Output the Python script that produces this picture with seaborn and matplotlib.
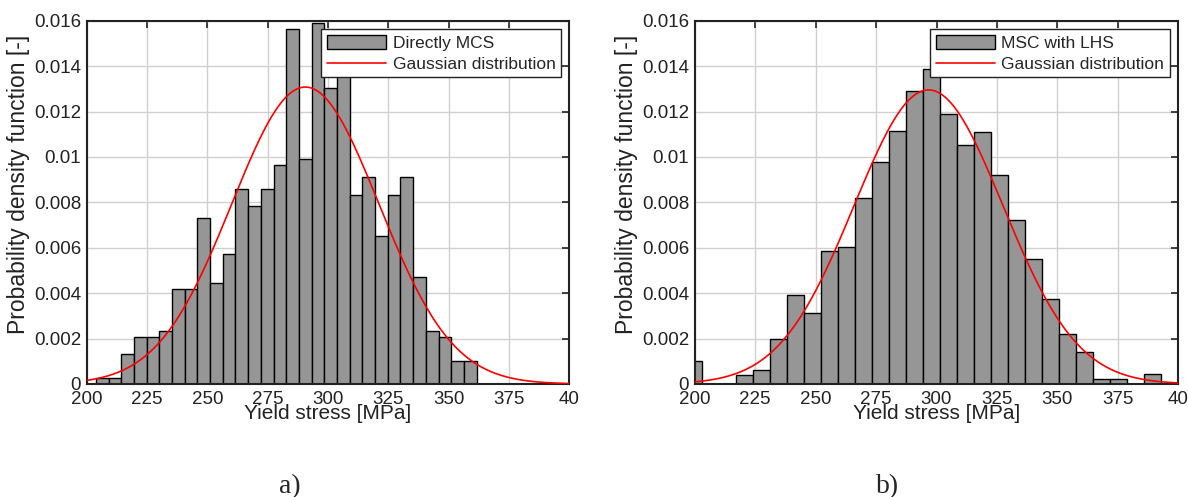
import numpy as np
import pandas as pd
import seaborn as sns
import matplotlib
matplotlib.use("Agg")
import matplotlib.pyplot as plt
from matplotlib.lines import Line2D
from matplotlib.patches import Patch

# ---------------- data ----------------
# panel a) Directly MCS : 30 bins from 203.8 to 361.6 MPa
a_edge_lo, a_edge_hi, a_nbins = 203.8, 361.6, 30
a_density = [0.000264, 0.000264, 0.00131, 0.00207, 0.00207, 0.00235, 0.00417, 0.00417,
             0.00731, 0.00443, 0.00574, 0.00860, 0.00782, 0.00860, 0.00966, 0.01565,
             0.00992, 0.01590, 0.01303, 0.01360, 0.00834, 0.00913, 0.00652, 0.00834,
             0.00913, 0.00470, 0.00233, 0.00207, 0.00103, 0.00103]
a_mu, a_sigma = 290.6, 30.5

# panel b) MSC with LHS : 28 bins from 195.97 to 392.8 MPa
b_edge_lo, b_edge_hi, b_nbins = 195.97, 392.8, 28
b_density = [0.00101, 0.0, 0.0, 0.00041, 0.00062, 0.00198, 0.00393, 0.00314,
             0.00587, 0.00605, 0.00821, 0.00976, 0.01113, 0.01289, 0.01386, 0.01190,
             0.01054, 0.01111, 0.00919, 0.00724, 0.00549, 0.00374, 0.00219, 0.00141,
             0.00023, 0.00023, 0.0, 0.00043]
b_mu, b_sigma = 296.7, 30.8

x_ticks = [200, 225, 250, 275, 300, 325, 350, 375, 400]
x_ticklabels = ["200", "225", "250", "275", "300", "325", "350", "375", "40"]
y_ticks = [0, 0.002, 0.004, 0.006, 0.008, 0.01, 0.012, 0.014, 0.016]
y_ticklabels = ["0", "0.002", "0.004", "0.006", "0.008", "0.01", "0.012", "0.014", "0.016"]
legend_a = ["Directly MCS", "Gaussian distribution"]
legend_b = ["MSC with LHS", "Gaussian distribution"]
captions = ["a)", "b)"]
xlabel = "Yield stress [MPa]"
ylabel = "Probability density function [-]"

# ---------------- style ----------------
sns.set_style("white")
plt.rcParams["font.family"] = ["Liberation Sans", "DejaVu Sans"]

fig = plt.figure(figsize=(11.88, 4.97), dpi=100)
ax_a = fig.add_axes([0.0730, 0.2274, 0.4062, 0.7309])
ax_b = fig.add_axes([0.5848, 0.2274, 0.4070, 0.7309])

BAR = "#969696"
INK = "#222222"


def panel(ax, lo, hi, n, dens, mu, sigma, leg_labels, caption, cap_x):
    edges = [float(e) for e in np.linspace(lo, hi, n + 1)]
    centers = [(edges[i] + edges[i + 1]) / 2 for i in range(n)]
    df = pd.DataFrame({"x": centers, "w": dens})
    sns.histplot(data=df, x="x", weights="w", bins=edges, stat="count",
                 color=BAR, alpha=1.0, edgecolor="black", linewidth=1.0, ax=ax,
                 zorder=2)
    xs = np.linspace(200, 400, 400)
    pdf = np.exp(-0.5 * ((xs - mu) / sigma) ** 2) / (sigma * np.sqrt(2 * np.pi))
    sns.lineplot(x=xs, y=pdf, color="red", linewidth=1.2, ax=ax, zorder=3)

    ax.set_xlim(200, 400)
    ax.set_ylim(0, 0.016)
    ax.set_xticks(x_ticks)
    ax.set_xticklabels(x_ticklabels)
    ax.set_yticks(y_ticks)
    ax.set_yticklabels(y_ticklabels)
    ax.grid(True, color="#d0d0d0", linewidth=1.0, zorder=0)
    ax.set_axisbelow(True)
    ax.tick_params(direction="in", length=5, width=1.2, top=True, right=True,
                   labelsize=13.5, colors=INK, pad=4)
    ax.tick_params(axis="x", pad=5)
    for s in ax.spines.values():
        s.set_visible(True)
        s.set_color(INK)
        s.set_linewidth(1.5)
    ax.set_xlabel(xlabel, fontsize=15, labelpad=-3, color=INK)
    ax.set_ylabel(ylabel, fontsize=16.5, color=INK)
    ax.yaxis.set_label_coords(-0.118, 0.55)

    handles = [Patch(facecolor=BAR, edgecolor="black", linewidth=1.0),
               Line2D([0], [0], color="red", linewidth=1.2)]
    leg = ax.legend(handles, leg_labels, loc="upper right", fontsize=12.5,
                    frameon=True, fancybox=False, framealpha=1, edgecolor=INK,
                    borderaxespad=0.5, handlelength=3.4, handleheight=0.9,
                    handletextpad=0.4, borderpad=0.3, labelspacing=0.3)
    leg.get_frame().set_linewidth(1.0)
    leg.set_zorder(5)
    fig.text(cap_x, 0.008, caption, fontsize=20, family=["Liberation Serif", "DejaVu Serif"],
             ha="center", va="baseline")


panel(ax_a, a_edge_lo, a_edge_hi, a_nbins, a_density, a_mu, a_sigma, legend_a, captions[0], 0.244)
panel(ax_b, b_edge_lo, b_edge_hi, b_nbins, b_density, b_mu, b_sigma, legend_b, captions[1], 0.7475)

fig.savefig("out.png", dpi=100)
